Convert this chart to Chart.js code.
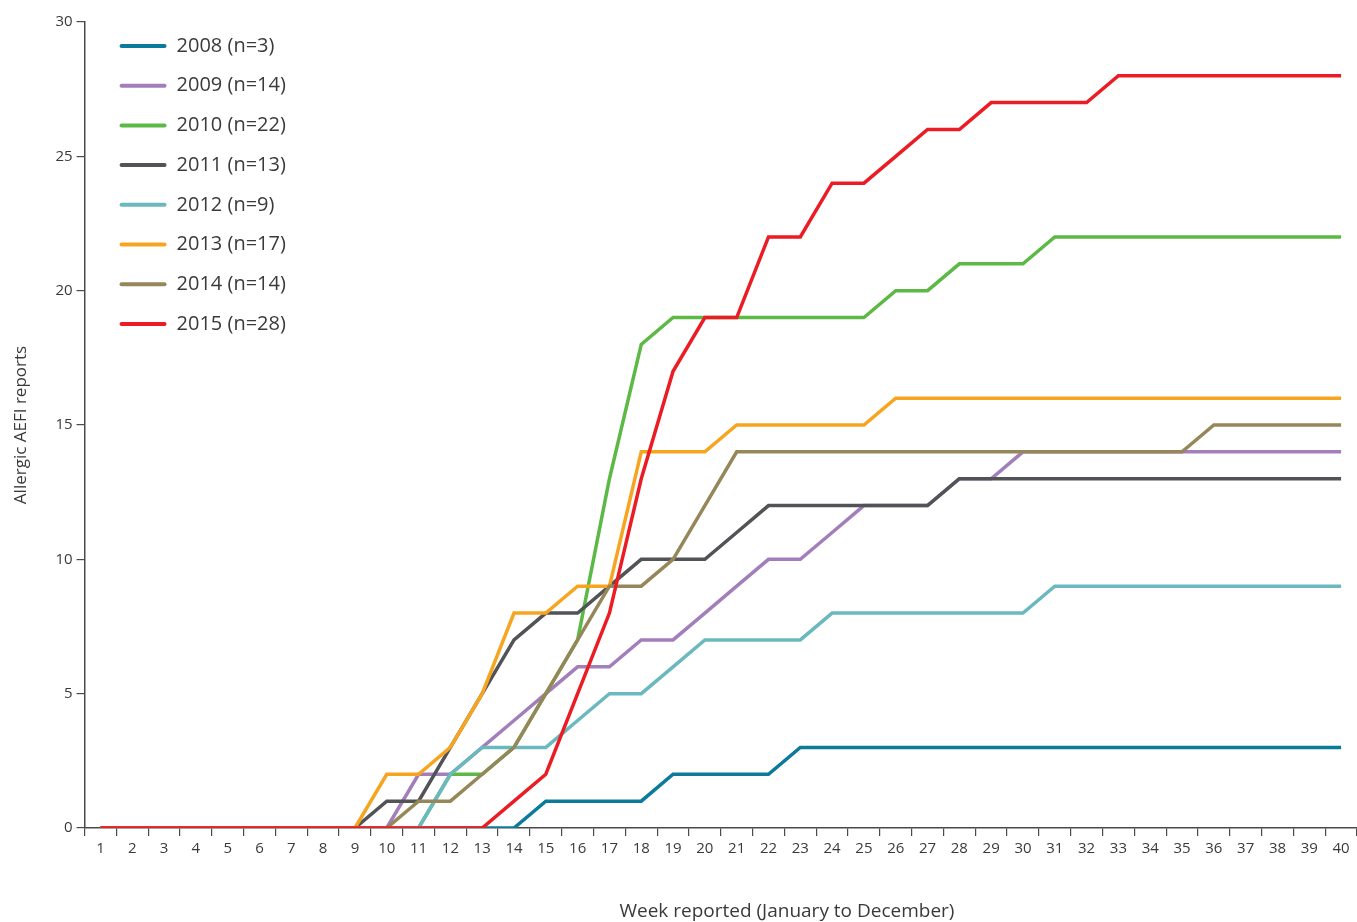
<!DOCTYPE html>
<html>
<head>
<meta charset="utf-8">
<script src="https://cdn.jsdelivr.net/npm/chart.js@4.4.1/dist/chart.umd.min.js"></script>
<style>
  html, body { margin: 0; padding: 0; background: #fff; }
  #wrap { width: 1357px; height: 922px; }
</style>
</head>
<body>
<div id="wrap"><canvas id="chart" width="1357" height="922"></canvas></div>
<script>
// weeks reported (x categories)
var weeks = ['1','2','3','4','5','6','7','8','9','10','11','12','13','14','15','16','17','18','19','20',
             '21','22','23','24','25','26','27','28','29','30','31','32','33','34','35','36','37','38','39','40'];

var seriesNames = ['2008 (n=3)', '2009 (n=14)', '2010 (n=22)', '2011 (n=13)',
                   '2012 (n=9)', '2013 (n=17)', '2014 (n=14)', '2015 (n=28)'];

var seriesColors = ['#0a7b9b', '#a27fbb', '#5cb946', '#515357', '#6bb9bf', '#f7a520', '#96875a', '#ec1c24'];

// cumulative allergic AEFI reports per week
var y2008 = [0,0,0,0,0,0,0,0,0,0, 0,0,0,0,1,1,1,1,2,2, 2,2,3,3,3,3,3,3,3,3, 3,3,3,3,3,3,3,3,3,3];
var y2009 = [0,0,0,0,0,0,0,0,0,0, 2,2,3,4,5,6,6,7,7,8, 9,10,10,11,12,12,12,13,13,14, 14,14,14,14,14,14,14,14,14,14];
var y2010 = [0,0,0,0,0,0,0,0,0,0, 0,2,2,3,5,7,13,18,19,19, 19,19,19,19,19,20,20,21,21,21, 22,22,22,22,22,22,22,22,22,22];
var y2011 = [0,0,0,0,0,0,0,0,0,1, 1,3,5,7,8,8,9,10,10,10, 11,12,12,12,12,12,12,13,13,13, 13,13,13,13,13,13,13,13,13,13];
var y2012 = [0,0,0,0,0,0,0,0,0,0, 0,2,3,3,3,4,5,5,6,7, 7,7,7,8,8,8,8,8,8,8, 9,9,9,9,9,9,9,9,9,9];
var y2013 = [0,0,0,0,0,0,0,0,0,2, 2,3,5,8,8,9,9,14,14,14, 15,15,15,15,15,16,16,16,16,16, 16,16,16,16,16,16,16,16,16,16];
var y2014 = [0,0,0,0,0,0,0,0,0,0, 1,1,2,3,5,7,9,9,10,12, 14,14,14,14,14,14,14,14,14,14, 14,14,14,14,14,15,15,15,15,15];
var y2015 = [0,0,0,0,0,0,0,0,0,0, 0,0,0,1,2,5,8,13,17,19, 19,22,22,24,24,25,26,26,27,27, 27,27,28,28,28,28,28,28,28,28];

var seriesValues = [y2008, y2009, y2010, y2011, y2012, y2013, y2014, y2015];

var yTicks = [0, 5, 10, 15, 20, 25, 30];

var textColor = '#3a3a3a';
var axisColor = '#4a4a4a';
var fontFamily = "'Open Sans', 'DejaVu Sans', sans-serif";

var datasets = seriesValues.map(function(vals, i) {
    return {
        label: seriesNames[i],
        data: vals,
        borderColor: seriesColors[i],
        backgroundColor: seriesColors[i],
        borderWidth: 3.5,
        pointRadius: 0,
        tension: 0,
        fill: false,
        // later years drawn on top
        order: seriesValues.length - i
    };
});

// legend drawn inside the plot, top left, in dataset order
var insideLegend = {
    id: 'insideLegend',
    afterDraw: function(chart) {
        var ctx = chart.ctx;
        var area = chart.chartArea;
        ctx.save();
        ctx.font = '20px ' + fontFamily;
        ctx.textBaseline = 'middle';
        ctx.textAlign = 'left';
        chart.data.datasets.forEach(function(ds, i) {
            var y = area.top + 24 + i * 39.7;
            var x = area.left + 37;
            ctx.strokeStyle = ds.borderColor;
            ctx.lineWidth = 4;
            ctx.lineCap = 'round';
            ctx.beginPath();
            ctx.moveTo(x, y);
            ctx.lineTo(x + 43, y);
            ctx.stroke();
            ctx.fillStyle = textColor;
            ctx.fillText(ds.label, x + 55, y);
        });
        ctx.restore();
    }
};

// x axis title sits low and a little right of centre
var xTitle = {
    id: 'xTitle',
    afterDraw: function(chart) {
        var ctx = chart.ctx;
        var area = chart.chartArea;
        ctx.save();
        ctx.font = '19px ' + fontFamily;
        ctx.fillStyle = textColor;
        ctx.textAlign = 'center';
        ctx.textBaseline = 'middle';
        ctx.fillText('Week reported (January to December)', area.left + (area.right - area.left) * 0.552, chart.height - 10);
        ctx.restore();
    }
};

var ctx = document.getElementById('chart').getContext('2d');
new Chart(ctx, {
    type: 'line',
    data: { labels: weeks, datasets: datasets },
    options: {
        responsive: false,
        animation: false,
        devicePixelRatio: 1,
        layout: { padding: { top: 22, right: 0, bottom: 60, left: 11 } },
        plugins: {
            legend: { display: false },
            tooltip: { enabled: false },
            title: { display: false }
        },
        scales: {
            x: {
                type: 'category',
                offset: true,
                grid: {
                    offset: true,
                    drawOnChartArea: false,
                    drawTicks: true,
                    tickLength: 8,
                    color: axisColor,
                    lineWidth: 1.2
                },
                border: { display: true, color: axisColor, width: 1.5 },
                ticks: {
                    color: textColor,
                    font: { family: fontFamily, size: 15 },
                    padding: 4,
                    maxRotation: 0,
                    autoSkip: false
                }
            },
            y: {
                min: 0,
                max: 30,
                afterBuildTicks: function(scale) {
                    scale.ticks = yTicks.map(function(v) { return { value: v }; });
                },
                grid: {
                    drawOnChartArea: false,
                    drawTicks: true,
                    tickLength: 8,
                    color: axisColor,
                    lineWidth: 1.2
                },
                border: { display: true, color: axisColor, width: 1.5 },
                ticks: {
                    color: textColor,
                    font: { family: fontFamily, size: 15 },
                    padding: 4
                },
                title: {
                    display: true,
                    text: 'Allergic AEFI reports',
                    color: textColor,
                    font: { family: fontFamily, size: 17 },
                    padding: { top: 0, bottom: 20 }
                }
            }
        }
    },
    plugins: [insideLegend, xTitle]
});
</script>
</body>
</html>
